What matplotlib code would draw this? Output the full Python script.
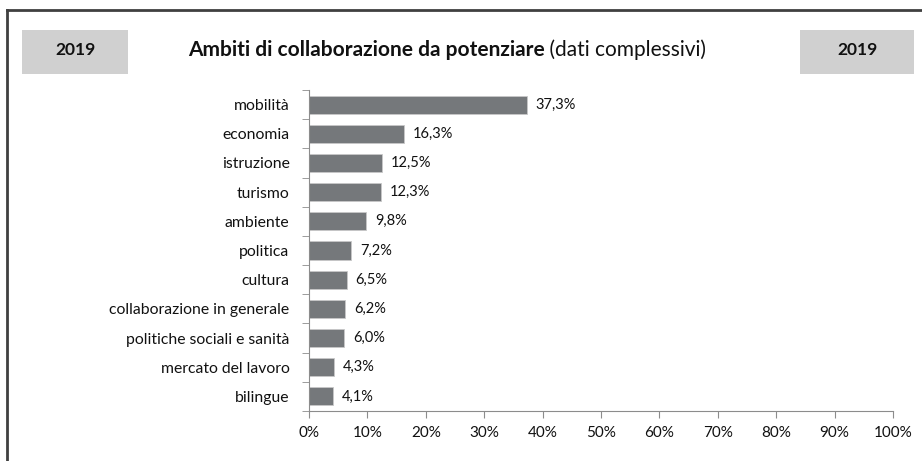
import matplotlib.pyplot as plt
from matplotlib.patches import Rectangle

categories = ['mobilità', 'economia', 'istruzione', 'turismo', 'ambiente', 'politica',
              'cultura', 'collaborazione in generale', 'politiche sociali e sanità',
              'mercato del lavoro', 'bilingue']
values = [37.3, 16.3, 12.5, 12.3, 9.8, 7.2, 6.5, 6.2, 6.0, 4.3, 4.1]
x_ticks = [0, 10, 20, 30, 40, 50, 60, 70, 80, 90, 100]

plt.rcParams['font.family'] = ['Lato', 'DejaVu Sans']

W, H = 922, 461
fig = plt.figure(figsize=(W / 100, H / 100), dpi=100)

# outer frame (only top and left visible)
fig.add_artist(plt.Line2D([7 / W, 7 / W], [0, 1 - 10 / H], color='#404040', lw=2))
fig.add_artist(plt.Line2D([7 / W, 1], [1 - 10 / H, 1 - 10 / H], color='#404040', lw=2))

# grey year boxes
for x0, x1 in [(22, 128), (800, 914)]:
    fig.add_artist(Rectangle((x0 / W, 1 - 74 / H), (x1 - x0) / W, 44 / H,
                             facecolor='#d0d0d0', edgecolor='none'))
    fig.text((x0 + x1) / 2 / W, 1 - 50 / H, '2019', ha='center', va='center',
             fontsize=12.5, fontweight='bold', color='#111111')

# title: bold part + regular part, centred as a whole
title_y = 1 - 50 / H
t1 = fig.text(0, title_y, 'Ambiti di collaborazione da potenziare', ha='left', va='center',
              fontsize=15, fontweight='bold', color='#111111')
t2 = fig.text(0, title_y, ' (dati complessivi)', ha='left', va='center',
              fontsize=15, color='#111111')
fig.canvas.draw()
w1 = t1.get_window_extent().width
w2 = t2.get_window_extent().width
left = 447 - (w1 + w2) / 2
t1.set_x(left / W)
t2.set_x((left + w1) / W)

ax = fig.add_axes([309 / W, 1 - 411 / H, (893 - 309) / W, (411 - 90) / H])
y = list(range(len(categories)))
ax.barh(y, values, height=0.62, color='#75787b', edgecolor='#c8c8c8', linewidth=0.6)
for yi, v in zip(y, values):
    ax.text(v + 1.5, yi, f'{v:.1f}%'.replace('.', ','), va='center', ha='left',
            fontsize=10.5, color='#111111')

ax.set_xlim(0, 100)
ax.set_ylim(len(categories) - 0.5, -0.5)
ax.set_xticks(x_ticks)
ax.set_xticklabels([f'{t}%' for t in x_ticks], fontsize=11, color='#111111')
ax.set_yticks(y)
ax.set_yticklabels(categories, fontsize=11.3, color='#111111')
ax.set_yticks([i - 0.5 for i in range(len(categories) + 1)], minor=True)
ax.tick_params(axis='y', which='major', length=0, pad=14)
ax.tick_params(axis='y', which='minor', length=5, color='#8c8c8c', direction='out')
ax.tick_params(axis='x', length=5, color='#8c8c8c', pad=6)
for s in ['top', 'right']:
    ax.spines[s].set_visible(False)
for s in ['left', 'bottom']:
    ax.spines[s].set_color('#8c8c8c')

fig.savefig('out.png', dpi=100)
